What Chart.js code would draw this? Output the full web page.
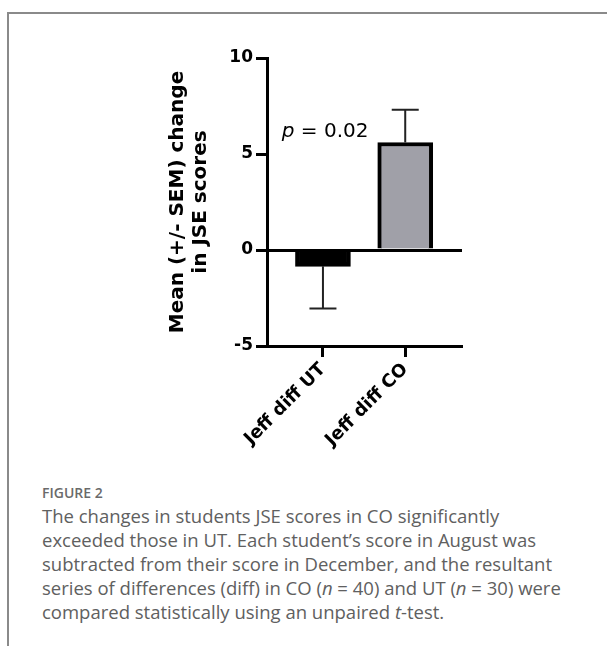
<!DOCTYPE html>
<html>
<head>
<meta charset="utf-8">
<script src="https://cdn.jsdelivr.net/npm/chart.js@4.4.1/dist/chart.umd.min.js"></script>
<style>
  html, body { margin: 0; padding: 0; background: #fff; }
  body { width: 607px; height: 646px; position: relative; overflow: hidden; }
  .marco {
    position: absolute; left: 7px; top: 12px; width: 700px; height: 700px;
    border-left: 2px solid #8a8a8a; border-top: 2px solid #8a8a8a;
  }
  #zona-grafico { position: absolute; left: 0; top: 0; width: 607px; height: 450px; }
  .fig-titulo {
    position: absolute; left: 42px; top: 483px;
    font-family: "Open Sans", sans-serif; font-size: 14px; font-weight: 600;
    color: #6a6a6a; line-height: 20px;
  }
  .fig-texto {
    position: absolute; left: 42px; top: 504px; width: 560px;
    font-family: "Open Sans", sans-serif; font-size: 18.5px; color: #606060;
    line-height: 24px; white-space: nowrap;
  }
</style>
</head>
<body>
<div class="marco"></div>
<div id="zona-grafico"><canvas id="grafico-barras" width="607" height="450"></canvas></div>
<div class="fig-titulo">FIGURE 2</div>
<div class="fig-texto">
  The changes in students JSE scores in CO significantly<br>
  exceeded those in UT. Each student’s score in August was<br>
  subtracted from their score in December, and the resultant<br>
  series of differences (diff) in CO (<i>n</i> = 40) and UT (<i>n</i> = 30) were<br>
  compared statistically using an unpaired <i>t</i>-test.
</div>

<script>
/* ── DATOS ─────────────────────────────────────────────── */
const categorias = ['Jeff diff UT', 'Jeff diff CO'];
const medias     = [-0.85, 5.6];
const sem        = [2.2, 1.7];
const colores    = ['#000000', '#a0a0a8'];
const ticksY     = [-5, 0, 5, 10];
const tituloY    = ['Mean (+/- SEM) change', 'in JSE scores'];
const pValor     = { italica: 'p', resto: ' = 0.02', x: -0.5, y: 5.9 };

/* ── BARRAS DE ERROR (SEM, hacia fuera del cero) ────────── */
const barrasError = {
  id: 'barrasError',
  afterDatasetsDraw(chart) {
    const { ctx, scales: { y } } = chart;
    const meta = chart.getDatasetMeta(0);
    ctx.save();
    ctx.strokeStyle = '#222';
    ctx.lineWidth = 2;
    meta.data.forEach((bar, i) => {
      const signo = medias[i] < 0 ? -1 : 1;
      const yFin = y.getPixelForValue(medias[i] + signo * sem[i]);
      ctx.beginPath();
      ctx.moveTo(bar.x, bar.y);
      ctx.lineTo(bar.x, yFin);
      ctx.moveTo(bar.x - 13.5, yFin);
      ctx.lineTo(bar.x + 13.5, yFin);
      ctx.stroke();
    });
    ctx.restore();
  }
};

/* ── TEXTO p = 0.02 ────────────────────────────────────── */
const textoP = {
  id: 'textoP',
  afterDraw(chart) {
    const { ctx, scales: { x, y } } = chart;
    const px = x.getPixelForValue(pValor.x);
    const py = y.getPixelForValue(pValor.y);
    ctx.save();
    ctx.fillStyle = '#000';
    ctx.textBaseline = 'alphabetic';
    ctx.font = 'oblique 20px "DejaVu Sans", sans-serif';
    ctx.fillText(pValor.italica, px, py);
    const w = ctx.measureText(pValor.italica).width;
    ctx.font = '20px "DejaVu Sans", sans-serif';
    ctx.fillText(pValor.resto, px + w, py);
    ctx.restore();
  }
};

const fuenteEje = { family: '"DejaVu Sans", sans-serif', weight: 'bold' };

new Chart(document.getElementById('grafico-barras'), {
  type: 'bar',
  data: {
    datasets: [{
      data: medias.map((m, i) => ({ x: i, y: m })),
      backgroundColor: colores,
      borderColor: '#000',
      borderWidth: 4,
      borderSkipped: 'start',
      barThickness: 55,
    }]
  },
  options: {
    responsive: false,
    animation: false,
    devicePixelRatio: 1,
    layout: { padding: { left: 0, top: 58, right: 145, bottom: 0 } },
    plugins: { legend: { display: false }, tooltip: { enabled: false } },
    scales: {
      x: {
        type: 'linear',
        offset: false,
        min: -0.68,
        max: 1.69,
        afterBuildTicks: (s) => { s.ticks = categorias.map((c, i) => ({ value: i })); },
        afterFit: (s) => { s.height = 104; },
        border: { display: true, color: '#000', width: 3 },
        grid: { offset: false, drawOnChartArea: false, tickLength: 11, tickWidth: 3, tickColor: '#000' },
        ticks: {
          autoSkip: false,
          minRotation: 45,
          maxRotation: 45,
          padding: 2,
          color: '#000',
          font: { ...fuenteEje, size: 18 },
          callback: (v) => categorias[v],
        }
      },
      y: {
        min: ticksY[0],
        max: ticksY[ticksY.length - 1],
        afterBuildTicks: (s) => { s.ticks = ticksY.map(v => ({ value: v })); },
        afterFit: (s) => { s.width = 267; },
        border: { display: true, color: '#000', width: 3 },
        grid: {
          color: (c) => c.tick && c.tick.value === 0 ? '#000' : 'rgba(0,0,0,0)',
          lineWidth: 3,
          tickLength: 11,
          tickWidth: 3,
          tickColor: '#000',
        },
        ticks: {
          padding: 3,
          color: '#000',
          font: { ...fuenteEje, size: 17 },
        },
        title: {
          display: true,
          text: tituloY,
          color: '#000',
          padding: { top: 166, bottom: 0 },
          font: { ...fuenteEje, size: 20, lineHeight: 1.15 },
        }
      }
    }
  },
  plugins: [barrasError, textoP]
});
</script>
</body>
</html>
